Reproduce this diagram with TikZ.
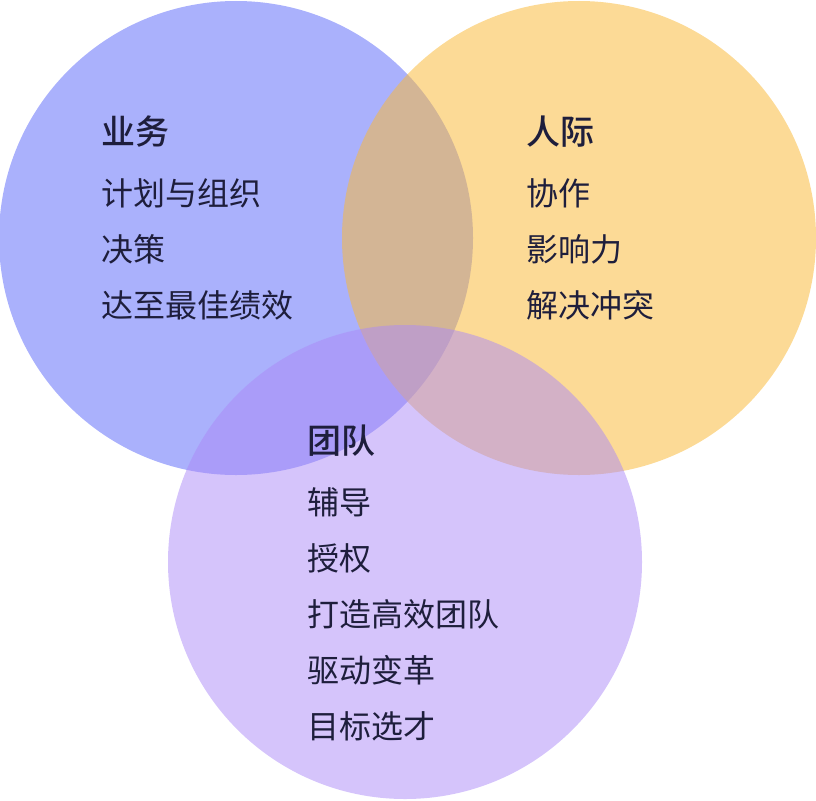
\documentclass[tikz,border=0pt]{standalone}
\usepackage{fontspec}
\newfontfamily\cjk{Noto Sans CJK SC}
\newfontfamily\cjkb{Noto Sans CJK SC Medium}
\definecolor{cblue}{HTML}{5563F9}
\definecolor{cyellow}{HTML}{F9B939}
\definecolor{cpurple}{HTML}{AB89F7}
\definecolor{ink}{HTML}{1E1E3C}
\begin{document}
\begin{tikzpicture}[x=1pt,y=-1pt,
  circ/.style={fill opacity=0.5,draw=none},
  ttl/.style={anchor=base west,inner sep=0pt,text=ink,font=\cjkb\fontsize{34}{40}\selectfont},
  itm/.style={anchor=base west,inner sep=0pt,text=ink,font=\cjk\fontsize{32}{38}\selectfont}]
\useasboundingbox (0,0) rectangle (816,800);
\fill[circ,fill=cblue] (236,238) circle (237);
\fill[circ,fill=cyellow,fill opacity=0.53] (579,238) circle (237);
\fill[circ,fill=cpurple] (405,562) circle (237);
% business
\node[ttl] (b0) at (101,144) {业务};
\node[itm] (b1) at (101,205) {计划与组织};
\node[itm] (b2) at (101,261) {决策};
\node[itm] (b3) at (101,317) {达至最佳绩效};
% people
\node[ttl] (p0) at (526,144) {人际};
\node[itm] (p1) at (526,205) {协作};
\node[itm] (p2) at (526,261) {影响力};
\node[itm] (p3) at (526,317) {解决冲突};
% team
\node[ttl] (t0) at (307,453) {团队};
\node[itm] (t1) at (307,514) {辅导};
\node[itm] (t2) at (307,570) {授权};
\node[itm] (t3) at (307,626) {打造高效团队};
\node[itm] (t4) at (307,682) {驱动变革};
\node[itm] (t5) at (307,738) {目标选才};
\end{tikzpicture}
\end{document}
